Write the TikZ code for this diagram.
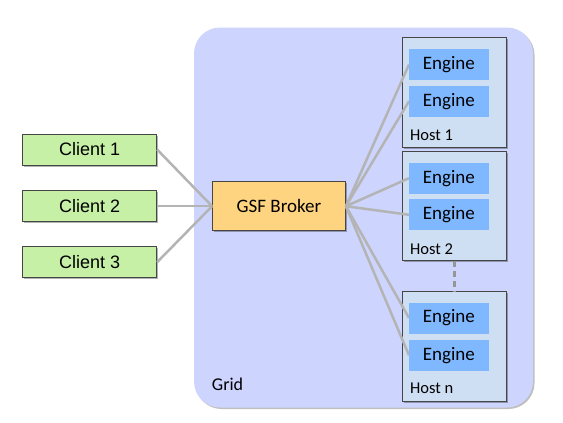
\documentclass[tikz,border=0pt]{standalone}
\usepackage{fontspec}
\setmainfont{Carlito}
\newfontfamily\arialfont{Liberation Sans}
\usetikzlibrary{shadows}
\definecolor{gridfill}{RGB}{205,213,254}
\definecolor{hostfill}{RGB}{207,223,243}
\definecolor{enginefill}{RGB}{128,184,255}
\definecolor{brokerfill}{RGB}{255,212,128}
\definecolor{clientfill}{RGB}{198,240,166}
\definecolor{linkgray}{RGB}{180,180,180}
\definecolor{dashgray}{RGB}{150,150,150}
\definecolor{edgegray}{RGB}{70,70,70}
\tikzset{
  shad/.style={drop shadow={shadow xshift=1.5pt,shadow yshift=-1.5pt,opacity=0.3,fill=black}},
  clientbox/.style={draw=edgegray,line width=0.8pt,fill=clientfill,minimum width=134pt,minimum height=31pt,inner sep=0pt,font=\arialfont\fontsize{18}{20}\selectfont,shad},
  brokerbox/.style={draw=edgegray,line width=0.8pt,fill=brokerfill,minimum width=133pt,minimum height=49pt,inner sep=0pt,font=\fontsize{19}{22}\selectfont,shad},
  hostbox/.style={draw=edgegray,line width=0.8pt,fill=hostfill,minimum width=104pt,minimum height=109.5pt,inner sep=0pt,shad},
  enginebox/.style={fill=enginefill,minimum width=80pt,minimum height=31pt,inner sep=0pt,font=\fontsize{19}{22}\selectfont},
  hostlabel/.style={anchor=base west,inner sep=0pt,font=\fontsize{16.5}{18}\selectfont},
  link/.style={draw=linkgray,line width=2.5pt},
  dashlink/.style={draw=dashgray,line width=3pt,dash pattern=on 6pt off 4pt},
}
\begin{document}
\begin{tikzpicture}[x=1pt,y=-1pt]
\useasboundingbox (0,0) rectangle (563,423);
% grid
\node[draw=none,fill=gridfill,rounded corners=26pt,minimum width=339pt,minimum height=380pt,inner sep=0pt,
  drop shadow={shadow xshift=1.5pt,shadow yshift=-1.5pt,opacity=0.25,fill=black}] (grid) at (363.5,217.5) {};
\node[anchor=base west,inner sep=0pt,font=\fontsize{18}{20}\selectfont] (gridlbl) at (211.7,390) {Grid};
% hosts
\node[hostbox] (h1) at (454.85,92.3) {};
\node[hostbox] (h2) at (454.85,205.85) {};
\node[hostbox] (hn) at (454.85,346.35) {};
\node[hostlabel] (h1l) at (410,140.5) {Host 1};
\node[hostlabel] (h2l) at (410,254.5) {Host 2};
\node[hostlabel] (hnl) at (410,393.5) {Host n};
% engines (coordinates for line ends)
\coordinate (e1a) at (409,64.5);
\coordinate (e1b) at (409,101.2);
\coordinate (e2a) at (409,178.2);
\coordinate (e2b) at (409,214.8);
\coordinate (ena) at (409,318);
\coordinate (enb) at (409,355.3);
% clients and broker
\node[clientbox] (c1) at (89.7,149.5) {Client 1};
\node[clientbox] (c2) at (89.7,206.2) {Client 2};
\node[clientbox] (c3) at (89.7,262.2) {Client 3};
\node[brokerbox] (b) at (279,206.2) {GSF Broker};
% links
\draw[link] (c1.east) -- (b.west);
\draw[link] (c2.east) -- (b.west);
\draw[link] (c3.east) -- (b.west);
\foreach \e in {e1a,e1b,e2a,e2b,ena,enb} \draw[link] (b.east) -- (\e);
\draw[dashlink] (h2.south) -- (hn.north);
% engines
\node[enginebox] (E1a) at (448.85,64.5) {Engine};
\node[enginebox] (E1b) at (448.85,101.2) {Engine};
\node[enginebox] (E2a) at (448.85,178.2) {Engine};
\node[enginebox] (E2b) at (448.85,214.8) {Engine};
\node[enginebox] (Ena) at (448.85,318) {Engine};
\node[enginebox] (Enb) at (448.85,355.3) {Engine};
\end{tikzpicture}
\end{document}
